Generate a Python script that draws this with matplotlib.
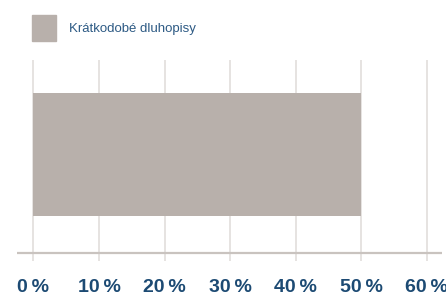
import matplotlib.pyplot as plt
from matplotlib.patches import Rectangle

categories = ['Krátkodobé dluhopisy']
values = [50]
ticks = [0, 10, 20, 30, 40, 50, 60]
tick_labels = ['0\u202f%', '10\u202f%', '20\u202f%', '30\u202f%', '40\u202f%', '50\u202f%', '60\u202f%']

bar_color = '#b8b0ab'
text_blue = '#1c4a73'
grid_color = '#e2dedb'

fig = plt.figure(figsize=(4.46, 2.97), dpi=100)
ax = fig.add_axes([17 / 446, 1 - 261 / 297, 425 / 446, 201 / 297])

ax.barh([0], values, height=1.0, color=bar_color, zorder=2)
ax.set_xlim(-2.5, 62.3)
ax.set_ylim(-0.866, 0.768)

for t in ticks:
    ax.axvline(t, color=grid_color, lw=1.2, zorder=1)
ax.axhline(-0.80, color='#c9c3bf', lw=1.6, zorder=3)

for s in ax.spines.values():
    s.set_visible(False)
ax.set_yticks([])
ax.set_xticks(ticks)
ax.set_xticklabels(tick_labels, fontsize=14, fontweight='bold', color=text_blue,
                   family='Liberation Sans')
ax.tick_params(axis='x', length=0, pad=13)

# legend key
fig.add_artist(Rectangle((32 / 446, 1 - 41 / 297), 24 / 446, 26 / 297,
                         transform=fig.transFigure, color=bar_color))
fig.text(69 / 446, 1 - 29 / 297, categories[0], fontsize=9.5, color='#2d5a84',
         va='center', ha='left', family='Liberation Sans')

fig.savefig('out.png', dpi=100)
